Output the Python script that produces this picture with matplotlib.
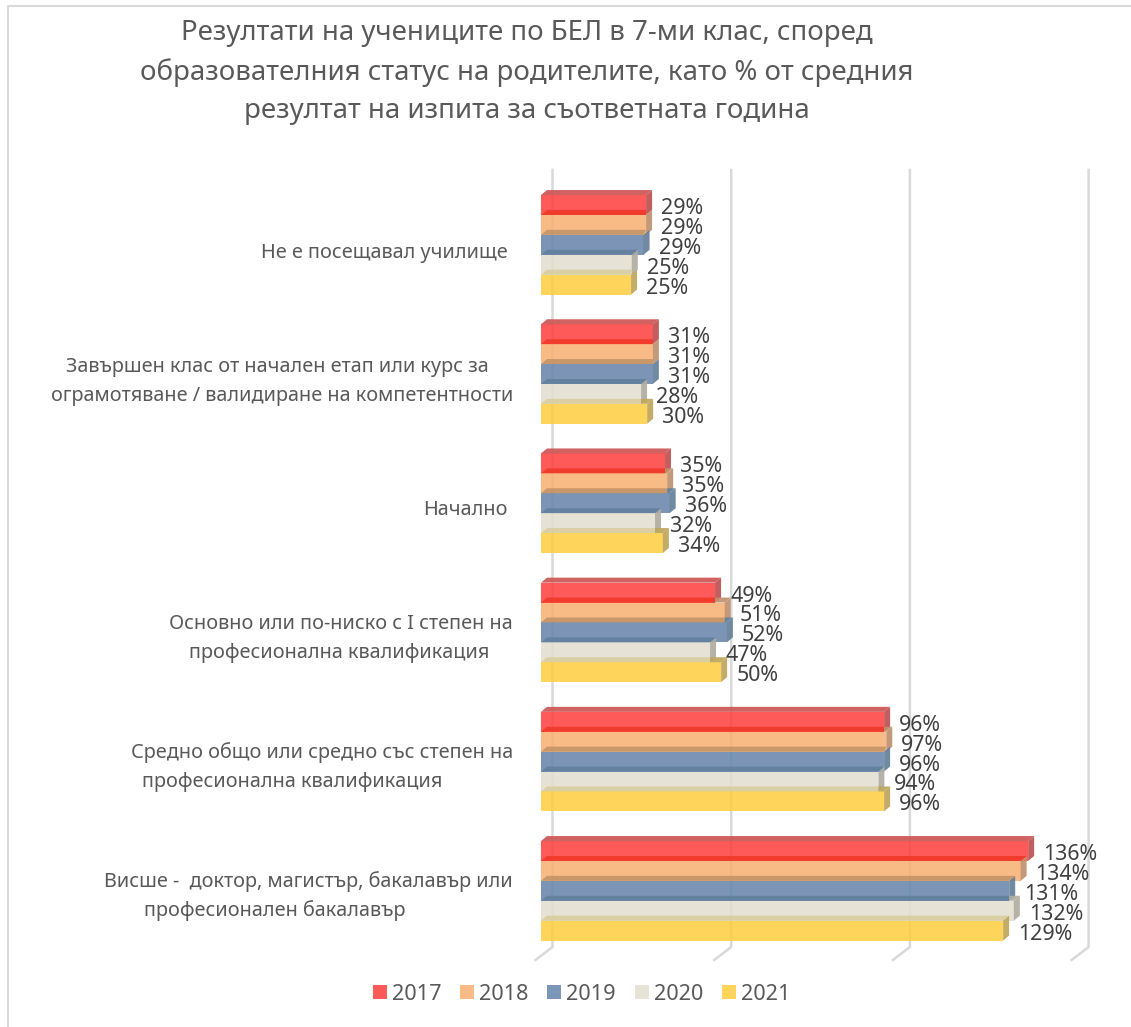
import matplotlib
matplotlib.use('Agg')
import matplotlib.pyplot as plt
from matplotlib.patches import Polygon, Patch

plt.rcParams['font.family'] = ['Noto Sans', 'DejaVu Sans']

title = ('Резултати на учениците по БЕЛ в 7-ми клас, според\n'
         'образователния статус на родителите, като % от средния\n'
         'резултат на изпита за съответната година')

categories = [
    ['Не е посещавал училище'],
    ['Завършен клас от начален етап или курс за',
     'ограмотяване / валидиране на компетентности'],
    ['Начално'],
    ['Основно или по-ниско с I степен на',
     'професионална квалификация'],
    ['Средно общо или средно със степен на',
     'професионална квалификация'],
    ['Висше -  доктор, магистър, бакалавър или',
     'професионален бакалавър'],
]
# right end of each label line in pixels, the original has them unevenly placed
label_right = [[508], [489, 513], [508], [513, 489], [513, 442], [513, 405]]

years = ['2017', '2018', '2019', '2020', '2021']

# values per year, one for each category
v2017 = [29.4, 31.3, 34.7, 48.7, 96.0, 136.3]
v2018 = [29.4, 31.3, 35.3, 51.4, 96.6, 134.2]
v2019 = [28.7, 31.3, 36.0, 52.0, 96.0, 131.0]
v2020 = [25.4, 28.0, 31.9, 47.3, 94.4, 132.3]
v2021 = [25.2, 29.7, 34.1, 50.4, 96.0, 129.3]
series = [v2017, v2018, v2019, v2020, v2021]

front_colors = ['#FF3D3D', '#F8AF71', '#6583AB', '#E2DFCF', '#FECD3D']
legend_colors = ['#FF5A5A', '#F9BB86', '#7C96B8', '#E6E4D7', '#FED45A']
side_colors = ['#BE5050', '#BE916E', '#64809A', '#AFACA0', '#BEA55A']
# colour of a bar's top face where it lies over the bar above
strip_colors = ['#CC5555', '#F03A2A', '#C49468', '#64809F', '#D9CDA0']
grid_ticks = [0, 50, 100, 150]

# layout in pixels of the 1131x1027 picture
W, H = 1131, 1027
X0 = 541           # where the bars start
PX = 3.574         # pixels for 1 %
Y_FIRST = 205      # centre of first bar
GROUP_STEP = 129.2
BAR_STEP = 19.9
DX, DY = 6, 5      # depth of the bars
ALPHA = 0.85

fig = plt.figure(figsize=(W / 100, H / 100), dpi=100)
ax = fig.add_axes([0, 0, 1, 1])
ax.set_xlim(-X0 / PX, (W - X0) / PX)
ax.set_ylim(H, 0)
ax.axis('off')

# chart border (only left and top are visible in the crop)
ax.plot([(8.5 - X0) / PX, (8.5 - X0) / PX, (W - X0) / PX], [H, 6, 6],
        color='#D9D9D9', lw=1.5, zorder=0)

# gridlines on the back wall, with the small floor tick
for tick in grid_ticks:
    xb = tick + 11.5 / PX
    xf = tick - 5.5 / PX
    ax.plot([xb, xb, xf], [170, 947, 960], color='#D9D9D9', lw=1.8, zorder=1,
            solid_joinstyle='miter')

# bars: top to bottom so that lower top faces lie over the upper bar
dx = DX / PX
order = 2
for g in range(len(categories)):
    for s in range(len(years)):
        val = series[s][g]
        yc = Y_FIRST + g * GROUP_STEP + s * BAR_STEP
        top = yc - BAR_STEP / 2
        bot = yc + BAR_STEP / 2
        ax.barh(yc, val, height=BAR_STEP, color=front_colors[s], alpha=ALPHA, lw=0, zorder=order)
        ax.add_patch(Polygon([(val, top), (val + dx, top - DY), (val + dx, bot - DY), (val, bot)],
                             closed=True, fc=side_colors[s], ec='none', alpha=0.92, zorder=order))
        # top face, split where the bar sticks out from under the one above
        up = series[s - 1][g] if s > 0 else val + dx
        ax.add_patch(Polygon([(0, top), (dx, top - DY), (min(val + dx, up), top - DY), (min(val, up), top)],
                             closed=True, fc=strip_colors[s], ec='none', alpha=0.92, zorder=order))
        if val > up:
            ax.add_patch(Polygon([(up, top - DY), (val + dx, top - DY), (val, top), (up, top)],
                                 closed=True, fc=side_colors[s], ec='none', alpha=0.92, zorder=order))
        order += 1
        ax.text(val + 15 / PX, yc + 3.5, '%d%%' % round(val), ha='left', va='center',
                fontsize=15.4, color='#404040', zorder=100)

# category labels
for g, lines in enumerate(categories):
    yc = Y_FIRST + g * GROUP_STEP + 2 * BAR_STEP + 8 - 0.6 * g
    if len(lines) == 1:
        ys = [yc]
    else:
        ys = [yc - 14.5, yc + 14.5]
    for line, right, y in zip(lines, label_right[g], ys):
        ax.text((right - X0) / PX, y, line, ha='right', va='center',
                fontsize=14.3, color='#595959')

fig.text(527 / W, 1 - 72 / H, title, ha='center', va='center', fontsize=19.9,
         color='#595959', linespacing=1.48)

handles = [Patch(fc=c, ec='none') for c in legend_colors]
fig.legend(handles, years, loc='center', bbox_to_anchor=(581.5 / W, 1 - 994 / H), ncol=5,
           frameon=False, fontsize=15.6, labelcolor='#595959', handlelength=0.645,
           handleheight=0.645, handletextpad=0.23, columnspacing=0.87)

fig.savefig('out.png', dpi=100)
